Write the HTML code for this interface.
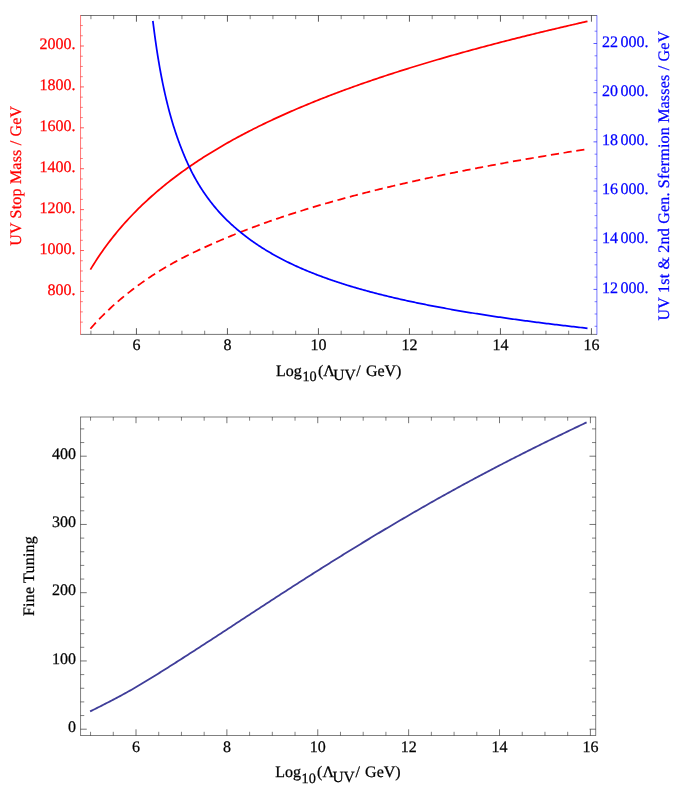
<!DOCTYPE html>
<html><head><meta charset="utf-8"><title>plots</title>
<style>
html,body{margin:0;padding:0;background:#fff;}
svg{display:block;font-family:"Liberation Serif",serif;text-rendering:geometricPrecision;will-change:transform;}
text{stroke-width:0.25px;paint-order:stroke;}
</style></head><body>
<svg width="681" height="788" viewBox="0 0 681 788">
<rect width="681" height="788" fill="#fff"/>
<line x1="80.55" y1="15.50" x2="596.90" y2="15.50" stroke="#000" stroke-width="0.54"/>
<line x1="80.55" y1="334.40" x2="596.90" y2="334.40" stroke="#000" stroke-width="0.54"/>
<line x1="80.55" y1="15.20" x2="80.55" y2="334.70" stroke="#ff0000" stroke-width="0.54"/>
<line x1="596.90" y1="15.20" x2="596.90" y2="334.70" stroke="#0000ff" stroke-width="0.54"/>
<line x1="90.93" y1="15.50" x2="90.93" y2="19.20" stroke="#000" stroke-width="0.5"/>
<line x1="90.93" y1="334.40" x2="90.93" y2="330.70" stroke="#000" stroke-width="0.5"/>
<line x1="113.68" y1="15.50" x2="113.68" y2="19.20" stroke="#000" stroke-width="0.5"/>
<line x1="113.68" y1="334.40" x2="113.68" y2="330.70" stroke="#000" stroke-width="0.5"/>
<line x1="136.43" y1="15.50" x2="136.43" y2="21.70" stroke="#000" stroke-width="0.65"/>
<line x1="136.43" y1="334.40" x2="136.43" y2="328.20" stroke="#000" stroke-width="0.65"/>
<line x1="159.18" y1="15.50" x2="159.18" y2="19.20" stroke="#000" stroke-width="0.5"/>
<line x1="159.18" y1="334.40" x2="159.18" y2="330.70" stroke="#000" stroke-width="0.5"/>
<line x1="181.93" y1="15.50" x2="181.93" y2="19.20" stroke="#000" stroke-width="0.5"/>
<line x1="181.93" y1="334.40" x2="181.93" y2="330.70" stroke="#000" stroke-width="0.5"/>
<line x1="204.68" y1="15.50" x2="204.68" y2="19.20" stroke="#000" stroke-width="0.5"/>
<line x1="204.68" y1="334.40" x2="204.68" y2="330.70" stroke="#000" stroke-width="0.5"/>
<line x1="227.43" y1="15.50" x2="227.43" y2="21.70" stroke="#000" stroke-width="0.65"/>
<line x1="227.43" y1="334.40" x2="227.43" y2="328.20" stroke="#000" stroke-width="0.65"/>
<line x1="250.18" y1="15.50" x2="250.18" y2="19.20" stroke="#000" stroke-width="0.5"/>
<line x1="250.18" y1="334.40" x2="250.18" y2="330.70" stroke="#000" stroke-width="0.5"/>
<line x1="272.93" y1="15.50" x2="272.93" y2="19.20" stroke="#000" stroke-width="0.5"/>
<line x1="272.93" y1="334.40" x2="272.93" y2="330.70" stroke="#000" stroke-width="0.5"/>
<line x1="295.68" y1="15.50" x2="295.68" y2="19.20" stroke="#000" stroke-width="0.5"/>
<line x1="295.68" y1="334.40" x2="295.68" y2="330.70" stroke="#000" stroke-width="0.5"/>
<line x1="318.43" y1="15.50" x2="318.43" y2="21.70" stroke="#000" stroke-width="0.65"/>
<line x1="318.43" y1="334.40" x2="318.43" y2="328.20" stroke="#000" stroke-width="0.65"/>
<line x1="341.18" y1="15.50" x2="341.18" y2="19.20" stroke="#000" stroke-width="0.5"/>
<line x1="341.18" y1="334.40" x2="341.18" y2="330.70" stroke="#000" stroke-width="0.5"/>
<line x1="363.93" y1="15.50" x2="363.93" y2="19.20" stroke="#000" stroke-width="0.5"/>
<line x1="363.93" y1="334.40" x2="363.93" y2="330.70" stroke="#000" stroke-width="0.5"/>
<line x1="386.68" y1="15.50" x2="386.68" y2="19.20" stroke="#000" stroke-width="0.5"/>
<line x1="386.68" y1="334.40" x2="386.68" y2="330.70" stroke="#000" stroke-width="0.5"/>
<line x1="409.43" y1="15.50" x2="409.43" y2="21.70" stroke="#000" stroke-width="0.65"/>
<line x1="409.43" y1="334.40" x2="409.43" y2="328.20" stroke="#000" stroke-width="0.65"/>
<line x1="432.18" y1="15.50" x2="432.18" y2="19.20" stroke="#000" stroke-width="0.5"/>
<line x1="432.18" y1="334.40" x2="432.18" y2="330.70" stroke="#000" stroke-width="0.5"/>
<line x1="454.93" y1="15.50" x2="454.93" y2="19.20" stroke="#000" stroke-width="0.5"/>
<line x1="454.93" y1="334.40" x2="454.93" y2="330.70" stroke="#000" stroke-width="0.5"/>
<line x1="477.68" y1="15.50" x2="477.68" y2="19.20" stroke="#000" stroke-width="0.5"/>
<line x1="477.68" y1="334.40" x2="477.68" y2="330.70" stroke="#000" stroke-width="0.5"/>
<line x1="500.43" y1="15.50" x2="500.43" y2="21.70" stroke="#000" stroke-width="0.65"/>
<line x1="500.43" y1="334.40" x2="500.43" y2="328.20" stroke="#000" stroke-width="0.65"/>
<line x1="523.18" y1="15.50" x2="523.18" y2="19.20" stroke="#000" stroke-width="0.5"/>
<line x1="523.18" y1="334.40" x2="523.18" y2="330.70" stroke="#000" stroke-width="0.5"/>
<line x1="545.93" y1="15.50" x2="545.93" y2="19.20" stroke="#000" stroke-width="0.5"/>
<line x1="545.93" y1="334.40" x2="545.93" y2="330.70" stroke="#000" stroke-width="0.5"/>
<line x1="568.68" y1="15.50" x2="568.68" y2="19.20" stroke="#000" stroke-width="0.5"/>
<line x1="568.68" y1="334.40" x2="568.68" y2="330.70" stroke="#000" stroke-width="0.5"/>
<line x1="591.43" y1="15.50" x2="591.43" y2="21.70" stroke="#000" stroke-width="0.65"/>
<line x1="591.43" y1="334.40" x2="591.43" y2="328.20" stroke="#000" stroke-width="0.65"/>
<text x="136.53" y="350.40" fill="#000" stroke="#000" font-size="16" text-anchor="middle" >6</text>
<text x="227.53" y="350.40" fill="#000" stroke="#000" font-size="16" text-anchor="middle" >8</text>
<text x="318.53" y="350.40" fill="#000" stroke="#000" font-size="16" text-anchor="middle" >10</text>
<text x="409.53" y="350.40" fill="#000" stroke="#000" font-size="16" text-anchor="middle" >12</text>
<text x="500.53" y="350.40" fill="#000" stroke="#000" font-size="16" text-anchor="middle" >14</text>
<text x="591.53" y="350.40" fill="#000" stroke="#000" font-size="16" text-anchor="middle" >16</text>
<line x1="80.55" y1="322.12" x2="82.85" y2="322.12" stroke="#ff0000" stroke-width="0.5"/>
<line x1="80.55" y1="311.89" x2="82.85" y2="311.89" stroke="#ff0000" stroke-width="0.5"/>
<line x1="80.55" y1="301.66" x2="82.85" y2="301.66" stroke="#ff0000" stroke-width="0.5"/>
<line x1="80.55" y1="291.44" x2="83.95" y2="291.44" stroke="#ff0000" stroke-width="0.65"/>
<line x1="80.55" y1="281.21" x2="82.85" y2="281.21" stroke="#ff0000" stroke-width="0.5"/>
<line x1="80.55" y1="270.98" x2="82.85" y2="270.98" stroke="#ff0000" stroke-width="0.5"/>
<line x1="80.55" y1="260.76" x2="82.85" y2="260.76" stroke="#ff0000" stroke-width="0.5"/>
<line x1="80.55" y1="250.53" x2="83.95" y2="250.53" stroke="#ff0000" stroke-width="0.65"/>
<line x1="80.55" y1="240.30" x2="82.85" y2="240.30" stroke="#ff0000" stroke-width="0.5"/>
<line x1="80.55" y1="230.08" x2="82.85" y2="230.08" stroke="#ff0000" stroke-width="0.5"/>
<line x1="80.55" y1="219.85" x2="82.85" y2="219.85" stroke="#ff0000" stroke-width="0.5"/>
<line x1="80.55" y1="209.62" x2="83.95" y2="209.62" stroke="#ff0000" stroke-width="0.65"/>
<line x1="80.55" y1="199.40" x2="82.85" y2="199.40" stroke="#ff0000" stroke-width="0.5"/>
<line x1="80.55" y1="189.17" x2="82.85" y2="189.17" stroke="#ff0000" stroke-width="0.5"/>
<line x1="80.55" y1="178.94" x2="82.85" y2="178.94" stroke="#ff0000" stroke-width="0.5"/>
<line x1="80.55" y1="168.72" x2="83.95" y2="168.72" stroke="#ff0000" stroke-width="0.65"/>
<line x1="80.55" y1="158.49" x2="82.85" y2="158.49" stroke="#ff0000" stroke-width="0.5"/>
<line x1="80.55" y1="148.26" x2="82.85" y2="148.26" stroke="#ff0000" stroke-width="0.5"/>
<line x1="80.55" y1="138.04" x2="82.85" y2="138.04" stroke="#ff0000" stroke-width="0.5"/>
<line x1="80.55" y1="127.81" x2="83.95" y2="127.81" stroke="#ff0000" stroke-width="0.65"/>
<line x1="80.55" y1="117.59" x2="82.85" y2="117.59" stroke="#ff0000" stroke-width="0.5"/>
<line x1="80.55" y1="107.36" x2="82.85" y2="107.36" stroke="#ff0000" stroke-width="0.5"/>
<line x1="80.55" y1="97.13" x2="82.85" y2="97.13" stroke="#ff0000" stroke-width="0.5"/>
<line x1="80.55" y1="86.91" x2="83.95" y2="86.91" stroke="#ff0000" stroke-width="0.65"/>
<line x1="80.55" y1="76.68" x2="82.85" y2="76.68" stroke="#ff0000" stroke-width="0.5"/>
<line x1="80.55" y1="66.45" x2="82.85" y2="66.45" stroke="#ff0000" stroke-width="0.5"/>
<line x1="80.55" y1="56.23" x2="82.85" y2="56.23" stroke="#ff0000" stroke-width="0.5"/>
<line x1="80.55" y1="46.00" x2="83.95" y2="46.00" stroke="#ff0000" stroke-width="0.65"/>
<line x1="80.55" y1="35.77" x2="82.85" y2="35.77" stroke="#ff0000" stroke-width="0.5"/>
<line x1="80.55" y1="25.55" x2="82.85" y2="25.55" stroke="#ff0000" stroke-width="0.5"/>
<text x="75.60" y="294.54" fill="#ff0000" stroke="#ff0000" font-size="16" text-anchor="end" >800.</text>
<text x="75.60" y="253.63" fill="#ff0000" stroke="#ff0000" font-size="16" text-anchor="end" >1000.</text>
<text x="75.60" y="212.72" fill="#ff0000" stroke="#ff0000" font-size="16" text-anchor="end" >1200.</text>
<text x="75.60" y="171.82" fill="#ff0000" stroke="#ff0000" font-size="16" text-anchor="end" >1400.</text>
<text x="75.60" y="130.91" fill="#ff0000" stroke="#ff0000" font-size="16" text-anchor="end" >1600.</text>
<text x="75.60" y="90.01" fill="#ff0000" stroke="#ff0000" font-size="16" text-anchor="end" >1800.</text>
<text x="75.60" y="49.10" fill="#ff0000" stroke="#ff0000" font-size="16" text-anchor="end" >2000.</text>
<line x1="596.90" y1="326.29" x2="594.60" y2="326.29" stroke="#0000ff" stroke-width="0.5"/>
<line x1="596.90" y1="313.99" x2="594.60" y2="313.99" stroke="#0000ff" stroke-width="0.5"/>
<line x1="596.90" y1="301.69" x2="594.60" y2="301.69" stroke="#0000ff" stroke-width="0.5"/>
<line x1="596.90" y1="289.40" x2="593.50" y2="289.40" stroke="#0000ff" stroke-width="0.65"/>
<line x1="596.90" y1="277.11" x2="594.60" y2="277.11" stroke="#0000ff" stroke-width="0.5"/>
<line x1="596.90" y1="264.81" x2="594.60" y2="264.81" stroke="#0000ff" stroke-width="0.5"/>
<line x1="596.90" y1="252.52" x2="594.60" y2="252.52" stroke="#0000ff" stroke-width="0.5"/>
<line x1="596.90" y1="240.22" x2="593.50" y2="240.22" stroke="#0000ff" stroke-width="0.65"/>
<line x1="596.90" y1="227.93" x2="594.60" y2="227.93" stroke="#0000ff" stroke-width="0.5"/>
<line x1="596.90" y1="215.63" x2="594.60" y2="215.63" stroke="#0000ff" stroke-width="0.5"/>
<line x1="596.90" y1="203.34" x2="594.60" y2="203.34" stroke="#0000ff" stroke-width="0.5"/>
<line x1="596.90" y1="191.04" x2="593.50" y2="191.04" stroke="#0000ff" stroke-width="0.65"/>
<line x1="596.90" y1="178.75" x2="594.60" y2="178.75" stroke="#0000ff" stroke-width="0.5"/>
<line x1="596.90" y1="166.45" x2="594.60" y2="166.45" stroke="#0000ff" stroke-width="0.5"/>
<line x1="596.90" y1="154.16" x2="594.60" y2="154.16" stroke="#0000ff" stroke-width="0.5"/>
<line x1="596.90" y1="141.86" x2="593.50" y2="141.86" stroke="#0000ff" stroke-width="0.65"/>
<line x1="596.90" y1="129.56" x2="594.60" y2="129.56" stroke="#0000ff" stroke-width="0.5"/>
<line x1="596.90" y1="117.27" x2="594.60" y2="117.27" stroke="#0000ff" stroke-width="0.5"/>
<line x1="596.90" y1="104.97" x2="594.60" y2="104.97" stroke="#0000ff" stroke-width="0.5"/>
<line x1="596.90" y1="92.68" x2="593.50" y2="92.68" stroke="#0000ff" stroke-width="0.65"/>
<line x1="596.90" y1="80.38" x2="594.60" y2="80.38" stroke="#0000ff" stroke-width="0.5"/>
<line x1="596.90" y1="68.09" x2="594.60" y2="68.09" stroke="#0000ff" stroke-width="0.5"/>
<line x1="596.90" y1="55.80" x2="594.60" y2="55.80" stroke="#0000ff" stroke-width="0.5"/>
<line x1="596.90" y1="43.50" x2="593.50" y2="43.50" stroke="#0000ff" stroke-width="0.65"/>
<line x1="596.90" y1="31.20" x2="594.60" y2="31.20" stroke="#0000ff" stroke-width="0.5"/>
<text x="602.00" y="292.50" fill="#0000ff" stroke="#0000ff" font-size="16" text-anchor="start" >12<tspan dx="2.4">000.</tspan></text>
<text x="602.00" y="243.32" fill="#0000ff" stroke="#0000ff" font-size="16" text-anchor="start" >14<tspan dx="2.4">000.</tspan></text>
<text x="602.00" y="194.14" fill="#0000ff" stroke="#0000ff" font-size="16" text-anchor="start" >16<tspan dx="2.4">000.</tspan></text>
<text x="602.00" y="144.96" fill="#0000ff" stroke="#0000ff" font-size="16" text-anchor="start" >18<tspan dx="2.4">000.</tspan></text>
<text x="602.00" y="95.78" fill="#0000ff" stroke="#0000ff" font-size="16" text-anchor="start" >20<tspan dx="2.4">000.</tspan></text>
<text x="602.00" y="46.60" fill="#0000ff" stroke="#0000ff" font-size="16" text-anchor="start" >22<tspan dx="2.4">000.</tspan></text>
<path d="M90.40,269.66 L92.06,266.92 L93.73,264.24 L95.39,261.62 L97.05,259.06 L98.71,256.56 L100.38,254.10 L102.04,251.70 L103.70,249.35 L105.36,247.04 L107.03,244.78 L108.69,242.56 L110.35,240.38 L112.01,238.24 L113.68,236.14 L115.34,234.08 L117.00,232.05 L118.66,230.06 L120.33,228.10 L121.99,226.17 L123.65,224.27 L125.31,222.41 L126.98,220.57 L128.64,218.76 L130.30,216.98 L131.96,215.23 L133.63,213.50 L135.29,211.80 L136.95,210.12 L138.61,208.47 L140.28,206.84 L141.94,205.23 L143.60,203.64 L145.26,202.08 L146.93,200.53 L148.59,199.01 L150.25,197.50 L151.91,196.01 L153.58,194.55 L155.24,193.10 L156.90,191.67 L158.56,190.25 L160.23,188.85 L161.89,187.47 L163.55,186.11 L165.21,184.76 L166.88,183.42 L168.54,182.10 L170.20,180.80 L171.86,179.51 L173.53,178.23 L175.19,176.97 L176.85,175.72 L178.51,174.49 L180.18,173.26 L181.84,172.05 L183.50,170.85 L185.16,169.67 L186.83,168.49 L188.49,167.33 L190.15,166.18 L191.82,165.04 L193.48,163.91 L195.14,162.79 L196.80,161.68 L198.47,160.59 L200.13,159.50 L201.79,158.42 L203.45,157.35 L205.12,156.29 L206.78,155.24 L208.44,154.20 L210.10,153.17 L211.77,152.15 L213.43,151.14 L215.09,150.13 L216.75,149.14 L218.42,148.15 L220.08,147.17 L221.74,146.20 L223.40,145.23 L225.07,144.28 L226.73,143.33 L228.39,142.38 L230.05,141.45 L231.72,140.52 L233.38,139.60 L235.04,138.69 L236.70,137.79 L238.37,136.89 L240.03,136.00 L241.69,135.11 L243.35,134.23 L245.02,133.36 L246.68,132.49 L248.34,131.63 L250.00,130.78 L251.67,129.93 L253.33,129.09 L254.99,128.25 L256.65,127.42 L258.32,126.59 L259.98,125.77 L261.64,124.96 L263.30,124.15 L264.97,123.35 L266.63,122.55 L268.29,121.76 L269.95,120.97 L271.62,120.19 L273.28,119.41 L274.94,118.64 L276.60,117.87 L278.27,117.11 L279.93,116.35 L281.59,115.60 L283.25,114.85 L284.92,114.10 L286.58,113.36 L288.24,112.63 L289.91,111.90 L291.57,111.17 L293.23,110.45 L294.89,109.73 L296.56,109.02 L298.22,108.31 L299.88,107.60 L301.54,106.90 L303.21,106.20 L304.87,105.51 L306.53,104.82 L308.19,104.13 L309.86,103.45 L311.52,102.77 L313.18,102.10 L314.84,101.42 L316.51,100.76 L318.17,100.09 L319.83,99.43 L321.49,98.77 L323.16,98.12 L324.82,97.47 L326.48,96.82 L328.14,96.18 L329.81,95.54 L331.47,94.90 L333.13,94.27 L334.79,93.64 L336.46,93.01 L338.12,92.38 L339.78,91.76 L341.44,91.14 L343.11,90.53 L344.77,89.91 L346.43,89.30 L348.09,88.70 L349.76,88.09 L351.42,87.49 L353.08,86.89 L354.74,86.30 L356.41,85.71 L358.07,85.12 L359.73,84.53 L361.39,83.94 L363.06,83.36 L364.72,82.78 L366.38,82.21 L368.04,81.63 L369.71,81.06 L371.37,80.49 L373.03,79.92 L374.69,79.36 L376.36,78.80 L378.02,78.24 L379.68,77.68 L381.34,77.13 L383.01,76.57 L384.67,76.02 L386.33,75.48 L387.99,74.93 L389.66,74.39 L391.32,73.85 L392.98,73.31 L394.65,72.77 L396.31,72.24 L397.97,71.71 L399.63,71.18 L401.30,70.65 L402.96,70.12 L404.62,69.60 L406.28,69.08 L407.95,68.56 L409.61,68.04 L411.27,67.52 L412.93,67.01 L414.60,66.50 L416.26,65.99 L417.92,65.48 L419.58,64.97 L421.25,64.47 L422.91,63.97 L424.57,63.47 L426.23,62.97 L427.90,62.47 L429.56,61.98 L431.22,61.48 L432.88,60.99 L434.55,60.50 L436.21,60.01 L437.87,59.53 L439.53,59.04 L441.20,58.56 L442.86,58.08 L444.52,57.60 L446.18,57.12 L447.85,56.64 L449.51,56.17 L451.17,55.70 L452.83,55.22 L454.50,54.76 L456.16,54.29 L457.82,53.82 L459.48,53.35 L461.15,52.89 L462.81,52.43 L464.47,51.97 L466.13,51.51 L467.80,51.05 L469.46,50.60 L471.12,50.14 L472.78,49.69 L474.45,49.24 L476.11,48.79 L477.77,48.34 L479.43,47.89 L481.10,47.44 L482.76,47.00 L484.42,46.55 L486.08,46.11 L487.75,45.67 L489.41,45.23 L491.07,44.79 L492.74,44.36 L494.40,43.92 L496.06,43.49 L497.72,43.05 L499.39,42.62 L501.05,42.19 L502.71,41.76 L504.37,41.33 L506.04,40.91 L507.70,40.48 L509.36,40.06 L511.02,39.64 L512.69,39.21 L514.35,38.79 L516.01,38.37 L517.67,37.95 L519.34,37.54 L521.00,37.12 L522.66,36.71 L524.32,36.29 L525.99,35.88 L527.65,35.47 L529.31,35.06 L530.97,34.65 L532.64,34.24 L534.30,33.83 L535.96,33.43 L537.62,33.02 L539.29,32.62 L540.95,32.22 L542.61,31.81 L544.27,31.41 L545.94,31.01 L547.60,30.61 L549.26,30.22 L550.92,29.82 L552.59,29.42 L554.25,29.03 L555.91,28.63 L557.57,28.24 L559.24,27.85 L560.90,27.46 L562.56,27.07 L564.22,26.68 L565.89,26.29 L567.55,25.90 L569.21,25.52 L570.87,25.13 L572.54,24.75 L574.20,24.37 L575.86,23.98 L577.52,23.60 L579.19,23.22 L580.85,22.84 L582.51,22.46 L584.17,22.08 L585.84,21.71 L587.50,21.33" fill="none" stroke="#ff0000" stroke-width="1.75" stroke-linejoin="round" />
<path d="M90.40,328.72 L92.06,326.83 L93.73,324.98 L95.39,323.17 L97.05,321.39 L98.71,319.64 L100.38,317.93 L102.04,316.24 L103.70,314.59 L105.36,312.96 L107.03,311.36 L108.69,309.79 L110.35,308.24 L112.01,306.71 L113.68,305.21 L115.34,303.73 L117.00,302.28 L118.66,300.84 L120.33,299.42 L121.99,298.03 L123.65,296.65 L125.31,295.29 L126.98,293.95 L128.64,292.63 L130.30,291.33 L131.96,290.04 L133.63,288.77 L135.29,287.51 L136.95,286.27 L138.61,285.05 L140.28,283.84 L141.94,282.65 L143.60,281.48 L145.26,280.31 L146.93,279.17 L148.59,278.04 L150.25,276.92 L151.91,275.82 L153.58,274.73 L155.24,273.66 L156.90,272.60 L158.56,271.56 L160.23,270.53 L161.89,269.51 L163.55,268.51 L165.21,267.52 L166.88,266.55 L168.54,265.59 L170.20,264.64 L171.86,263.70 L173.53,262.78 L175.19,261.86 L176.85,260.96 L178.51,260.07 L180.18,259.20 L181.84,258.33 L183.50,257.47 L185.16,256.62 L186.83,255.78 L188.49,254.95 L190.15,254.13 L191.82,253.32 L193.48,252.52 L195.14,251.72 L196.80,250.93 L198.47,250.15 L200.13,249.37 L201.79,248.60 L203.45,247.84 L205.12,247.08 L206.78,246.33 L208.44,245.58 L210.10,244.84 L211.77,244.10 L213.43,243.37 L215.09,242.64 L216.75,241.92 L218.42,241.21 L220.08,240.50 L221.74,239.79 L223.40,239.09 L225.07,238.39 L226.73,237.69 L228.39,237.00 L230.05,236.32 L231.72,235.64 L233.38,234.96 L235.04,234.29 L236.70,233.63 L238.37,232.96 L240.03,232.31 L241.69,231.65 L243.35,231.00 L245.02,230.36 L246.68,229.72 L248.34,229.08 L250.00,228.45 L251.67,227.82 L253.33,227.19 L254.99,226.57 L256.65,225.96 L258.32,225.35 L259.98,224.74 L261.64,224.13 L263.30,223.53 L264.97,222.94 L266.63,222.35 L268.29,221.76 L269.95,221.17 L271.62,220.59 L273.28,220.02 L274.94,219.44 L276.60,218.87 L278.27,218.31 L279.93,217.74 L281.59,217.19 L283.25,216.63 L284.92,216.08 L286.58,215.53 L288.24,214.98 L289.91,214.44 L291.57,213.90 L293.23,213.37 L294.89,212.83 L296.56,212.31 L298.22,211.78 L299.88,211.26 L301.54,210.74 L303.21,210.22 L304.87,209.70 L306.53,209.19 L308.19,208.69 L309.86,208.18 L311.52,207.68 L313.18,207.18 L314.84,206.68 L316.51,206.19 L318.17,205.70 L319.83,205.21 L321.49,204.72 L323.16,204.24 L324.82,203.76 L326.48,203.28 L328.14,202.80 L329.81,202.33 L331.47,201.86 L333.13,201.39 L334.79,200.92 L336.46,200.46 L338.12,200.00 L339.78,199.54 L341.44,199.09 L343.11,198.63 L344.77,198.18 L346.43,197.73 L348.09,197.28 L349.76,196.84 L351.42,196.40 L353.08,195.96 L354.74,195.52 L356.41,195.08 L358.07,194.65 L359.73,194.22 L361.39,193.79 L363.06,193.36 L364.72,192.93 L366.38,192.51 L368.04,192.09 L369.71,191.67 L371.37,191.25 L373.03,190.84 L374.69,190.42 L376.36,190.01 L378.02,189.60 L379.68,189.19 L381.34,188.79 L383.01,188.38 L384.67,187.98 L386.33,187.58 L387.99,187.18 L389.66,186.78 L391.32,186.39 L392.98,186.00 L394.65,185.60 L396.31,185.22 L397.97,184.83 L399.63,184.44 L401.30,184.06 L402.96,183.67 L404.62,183.29 L406.28,182.91 L407.95,182.53 L409.61,182.16 L411.27,181.78 L412.93,181.41 L414.60,181.04 L416.26,180.67 L417.92,180.30 L419.58,179.93 L421.25,179.56 L422.91,179.20 L424.57,178.84 L426.23,178.48 L427.90,178.12 L429.56,177.76 L431.22,177.40 L432.88,177.05 L434.55,176.69 L436.21,176.34 L437.87,175.99 L439.53,175.64 L441.20,175.29 L442.86,174.95 L444.52,174.60 L446.18,174.26 L447.85,173.91 L449.51,173.57 L451.17,173.23 L452.83,172.89 L454.50,172.56 L456.16,172.22 L457.82,171.88 L459.48,171.55 L461.15,171.22 L462.81,170.89 L464.47,170.56 L466.13,170.23 L467.80,169.90 L469.46,169.58 L471.12,169.25 L472.78,168.93 L474.45,168.60 L476.11,168.28 L477.77,167.96 L479.43,167.64 L481.10,167.33 L482.76,167.01 L484.42,166.69 L486.08,166.38 L487.75,166.07 L489.41,165.75 L491.07,165.44 L492.74,165.13 L494.40,164.82 L496.06,164.52 L497.72,164.21 L499.39,163.90 L501.05,163.60 L502.71,163.30 L504.37,162.99 L506.04,162.69 L507.70,162.39 L509.36,162.09 L511.02,161.80 L512.69,161.50 L514.35,161.20 L516.01,160.91 L517.67,160.61 L519.34,160.32 L521.00,160.03 L522.66,159.74 L524.32,159.45 L525.99,159.16 L527.65,158.87 L529.31,158.58 L530.97,158.29 L532.64,158.01 L534.30,157.72 L535.96,157.44 L537.62,157.16 L539.29,156.88 L540.95,156.60 L542.61,156.32 L544.27,156.04 L545.94,155.76 L547.60,155.48 L549.26,155.20 L550.92,154.93 L552.59,154.65 L554.25,154.38 L555.91,154.11 L557.57,153.84 L559.24,153.56 L560.90,153.29 L562.56,153.03 L564.22,152.76 L565.89,152.49 L567.55,152.22 L569.21,151.96 L570.87,151.69 L572.54,151.43 L574.20,151.16 L575.86,150.90 L577.52,150.64 L579.19,150.38 L580.85,150.12 L582.51,149.86 L584.17,149.60 L585.84,149.34 L587.50,149.08" fill="none" stroke="#ff0000" stroke-width="1.75" stroke-linejoin="round" stroke-dasharray="8.2 4.64"/>
<path d="M152.86,20.90 L152.86,20.91 L152.87,20.96 L152.88,21.03 L152.89,21.12 L152.91,21.25 L152.93,21.40 L152.95,21.58 L152.97,21.79 L153.00,22.02 L153.04,22.28 L153.07,22.57 L153.11,22.89 L153.16,23.23 L153.20,23.60 L153.25,24.00 L153.31,24.42 L153.36,24.86 L153.42,25.34 L153.49,25.83 L153.56,26.36 L153.63,26.90 L153.70,27.47 L153.78,28.07 L153.86,28.69 L153.94,29.33 L154.03,29.99 L154.12,30.68 L154.21,31.39 L154.31,32.12 L154.41,32.87 L154.51,33.64 L154.62,34.44 L154.72,35.25 L154.84,36.08 L154.95,36.94 L155.07,37.81 L155.20,38.70 L155.32,39.60 L155.45,40.53 L155.58,41.47 L155.72,42.43 L155.86,43.41 L156.00,44.40 L156.15,45.40 L156.30,46.42 L156.45,47.46 L156.61,48.51 L156.77,49.57 L156.93,50.65 L157.10,51.74 L157.27,52.84 L157.44,53.95 L157.62,55.07 L157.80,56.21 L157.99,57.35 L158.18,58.50 L158.37,59.67 L158.57,60.84 L158.77,62.02 L158.97,63.22 L159.17,64.41 L159.38,65.62 L159.60,66.83 L159.81,68.05 L160.03,69.28 L160.26,70.51 L160.48,71.75 L160.71,72.99 L160.95,74.24 L161.19,75.49 L161.43,76.75 L161.67,78.01 L161.92,79.27 L162.17,80.54 L162.42,81.81 L162.68,83.08 L162.94,84.36 L163.21,85.64 L163.48,86.91 L163.75,88.20 L164.03,89.48 L164.31,90.76 L164.59,92.04 L164.87,93.33 L165.16,94.61 L165.46,95.89 L165.75,97.18 L166.05,98.46 L166.36,99.74 L166.67,101.02 L166.98,102.30 L167.29,103.58 L167.61,104.86 L167.93,106.13 L168.26,107.40 L168.59,108.67 L168.92,109.94 L169.25,111.21 L169.59,112.47 L169.94,113.73 L170.28,114.99 L170.64,116.24 L170.99,117.49 L171.35,118.74 L171.71,119.98 L172.07,121.23 L172.44,122.46 L172.81,123.69 L173.19,124.92 L173.56,126.15 L173.95,127.37 L174.33,128.58 L174.72,129.80 L175.11,131.00 L175.51,132.21 L175.91,133.40 L176.31,134.60 L176.71,135.79 L177.12,136.97 L177.53,138.15 L177.95,139.32 L178.37,140.49 L178.79,141.66 L179.22,142.81 L179.65,143.97 L180.08,145.12 L180.51,146.26 L180.95,147.40 L181.39,148.53 L181.84,149.66 L182.28,150.78 L182.73,151.89 L183.18,153.00 L183.64,154.11 L184.10,155.21 L184.55,156.30 L185.02,157.39 L185.48,158.47 L185.95,159.55 L186.42,160.62 L186.90,161.69 L187.37,162.75 L187.86,163.80 L188.34,164.85 L188.83,165.89 L189.32,166.93 L189.81,167.96 L190.31,168.99 L190.82,170.01 L191.32,171.02 L191.83,172.03 L192.35,173.03 L192.86,174.03 L193.39,175.02 L193.91,176.01 L194.44,176.99 L194.98,177.97 L195.52,178.94 L196.06,179.90 L196.61,180.86 L197.16,181.81 L197.71,182.76 L198.27,183.70 L198.84,184.64 L199.41,185.57 L199.98,186.50 L200.56,187.42 L201.14,188.33 L201.73,189.24 L202.32,190.14 L202.92,191.04 L203.52,191.93 L204.12,192.82 L204.73,193.71 L205.34,194.58 L205.95,195.45 L206.57,196.32 L207.19,197.18 L207.81,198.04 L208.44,198.89 L209.07,199.74 L209.70,200.58 L210.34,201.42 L210.98,202.25 L211.63,203.07 L212.28,203.89 L212.93,204.71 L213.58,205.52 L214.24,206.33 L214.91,207.13 L215.57,207.93 L216.24,208.72 L216.91,209.50 L217.59,210.29 L218.27,211.06 L218.96,211.84 L219.65,212.61 L220.35,213.37 L221.05,214.13 L221.76,214.88 L222.47,215.63 L223.18,216.38 L223.90,217.12 L224.63,217.86 L225.36,218.59 L226.09,219.31 L226.83,220.04 L227.57,220.76 L228.31,221.47 L229.06,222.18 L229.81,222.89 L230.57,223.59 L231.33,224.29 L232.09,224.98 L232.85,225.67 L233.62,226.36 L234.39,227.04 L235.17,227.71 L235.94,228.39 L236.72,229.06 L237.51,229.72 L238.29,230.38 L239.08,231.04 L239.87,231.69 L240.67,232.34 L241.46,232.99 L242.26,233.63 L243.06,234.27 L243.87,234.90 L244.67,235.53 L245.48,236.16 L246.29,236.78 L247.11,237.40 L247.93,238.02 L248.75,238.63 L249.58,239.24 L250.41,239.84 L251.25,240.45 L252.08,241.04 L252.92,241.64 L253.77,242.23 L254.61,242.82 L255.46,243.40 L256.32,243.98 L257.18,244.56 L258.04,245.14 L258.90,245.71 L259.77,246.28 L260.64,246.84 L261.52,247.40 L262.39,247.96 L263.28,248.52 L264.16,249.07 L265.05,249.62 L265.94,250.16 L266.84,250.71 L267.73,251.24 L268.64,251.78 L269.54,252.32 L270.45,252.85 L271.36,253.37 L272.28,253.90 L273.20,254.42 L274.12,254.94 L275.04,255.46 L275.97,255.97 L276.90,256.48 L277.84,256.99 L278.78,257.49 L279.72,257.99 L280.67,258.49 L281.62,258.99 L282.57,259.48 L283.53,259.98 L284.49,260.46 L285.45,260.95 L286.41,261.43 L287.38,261.91 L288.36,262.39 L289.34,262.87 L290.32,263.34 L291.30,263.81 L292.29,264.28 L293.28,264.74 L294.27,265.21 L295.27,265.67 L296.27,266.13 L297.28,266.58 L298.29,267.04 L299.30,267.49 L300.31,267.94 L301.33,268.38 L302.35,268.83 L303.38,269.27 L304.41,269.71 L305.44,270.14 L306.48,270.58 L307.52,271.01 L308.56,271.44 L309.61,271.87 L310.66,272.30 L311.71,272.72 L312.77,273.14 L313.83,273.56 L314.90,273.98 L315.96,274.39 L317.04,274.81 L318.11,275.22 L319.19,275.63 L320.27,276.03 L321.36,276.44 L322.44,276.84 L323.54,277.24 L324.63,277.64 L325.73,278.04 L326.83,278.43 L327.94,278.82 L329.05,279.22 L330.16,279.60 L331.28,279.99 L332.40,280.38 L333.52,280.76 L334.65,281.14 L335.78,281.52 L336.92,281.90 L338.05,282.27 L339.20,282.65 L340.34,283.02 L341.49,283.39 L342.64,283.76 L343.80,284.13 L344.96,284.49 L346.12,284.86 L347.28,285.22 L348.45,285.58 L349.62,285.94 L350.80,286.29 L351.98,286.65 L353.16,287.00 L354.35,287.35 L355.54,287.70 L356.73,288.05 L357.93,288.40 L359.13,288.75 L360.34,289.09 L361.54,289.43 L362.76,289.77 L363.97,290.11 L365.19,290.45 L366.41,290.78 L367.64,291.12 L368.86,291.45 L370.10,291.78 L371.33,292.11 L372.57,292.44 L373.81,292.77 L375.06,293.09 L376.31,293.42 L377.56,293.74 L378.82,294.06 L380.08,294.38 L381.34,294.70 L382.61,295.02 L383.88,295.33 L385.15,295.64 L386.43,295.96 L387.71,296.27 L389.00,296.58 L390.29,296.89 L391.58,297.19 L392.87,297.50 L394.17,297.81 L395.47,298.11 L396.78,298.41 L398.09,298.71 L399.40,299.01 L400.72,299.31 L402.04,299.61 L403.36,299.90 L404.69,300.20 L406.02,300.49 L407.35,300.78 L408.69,301.07 L410.03,301.36 L411.37,301.65 L412.72,301.94 L414.07,302.22 L415.42,302.51 L416.78,302.79 L418.14,303.07 L419.51,303.35 L420.88,303.63 L422.25,303.91 L423.62,304.19 L425.00,304.47 L426.39,304.74 L427.77,305.02 L429.16,305.29 L430.55,305.56 L431.95,305.83 L433.35,306.10 L434.75,306.37 L436.16,306.64 L437.57,306.91 L438.98,307.17 L440.40,307.44 L441.82,307.70 L443.25,307.96 L444.68,308.23 L446.11,308.49 L447.54,308.75 L448.98,309.00 L450.42,309.26 L451.87,309.52 L453.32,309.77 L454.77,310.03 L456.22,310.28 L457.68,310.53 L459.15,310.79 L460.61,311.04 L462.08,311.29 L463.56,311.54 L465.03,311.78 L466.51,312.03 L468.00,312.28 L469.48,312.52 L470.98,312.77 L472.47,313.01 L473.97,313.25 L475.47,313.49 L476.97,313.73 L478.48,313.97 L479.99,314.21 L481.51,314.45 L483.03,314.69 L484.55,314.92 L486.08,315.16 L487.60,315.39 L489.14,315.63 L490.67,315.86 L492.21,316.09 L493.76,316.32 L495.30,316.55 L496.85,316.78 L498.41,317.01 L499.96,317.24 L501.53,317.46 L503.09,317.69 L504.66,317.92 L506.23,318.14 L507.80,318.36 L509.38,318.59 L510.96,318.81 L512.55,319.03 L514.14,319.25 L515.73,319.47 L517.33,319.69 L518.92,319.91 L520.53,320.13 L522.13,320.34 L523.74,320.56 L525.36,320.78 L526.97,320.99 L528.59,321.20 L530.22,321.42 L531.84,321.63 L533.47,321.84 L535.11,322.05 L536.75,322.26 L538.39,322.47 L540.03,322.68 L541.68,322.89 L543.33,323.10 L544.99,323.31 L546.65,323.51 L548.31,323.72 L549.97,323.92 L551.64,324.13 L553.31,324.33 L554.99,324.53 L556.67,324.74 L558.35,324.94 L560.04,325.14 L561.73,325.34 L563.42,325.54 L565.12,325.74 L566.82,325.94 L568.52,326.13 L570.23,326.33 L571.94,326.53 L573.66,326.72 L575.38,326.92 L577.10,327.11 L578.82,327.31 L580.55,327.50 L582.28,327.69 L584.02,327.89 L585.76,328.08 L587.50,328.27" fill="none" stroke="#0000ff" stroke-width="1.75" stroke-linejoin="round" />
<text font-size="16" fill="#000" stroke="#000"><tspan x="276.00" y="376.00">Log</tspan><tspan x="302.40" y="381.30" font-size="14.3">10</tspan><tspan x="317.90" y="376.00">(Λ</tspan><tspan x="333.20" y="380.30" font-size="15.5">UV</tspan><tspan x="356.30" y="376.00">/</tspan><tspan x="365.90" y="376.00">GeV)</tspan></text>
<text transform="translate(21.2,175.75) rotate(-90)" letter-spacing="0.2" font-size="16" fill="#ff0000" stroke="#ff0000" text-anchor="middle">UV Stop Mass / GeV</text>
<text transform="translate(669.2,175.55) rotate(-90)" letter-spacing="0.2" font-size="16" fill="#0000ff" stroke="#0000ff" text-anchor="middle">UV 1st &amp; 2nd Gen. Sfermion Masses / GeV</text>
<line x1="80.55" y1="417.00" x2="595.70" y2="417.00" stroke="#000" stroke-width="0.5"/>
<line x1="80.55" y1="735.50" x2="595.70" y2="735.50" stroke="#000" stroke-width="0.5"/>
<line x1="80.55" y1="416.70" x2="80.55" y2="735.80" stroke="#000" stroke-width="0.5"/>
<line x1="595.70" y1="416.70" x2="595.70" y2="735.80" stroke="#000" stroke-width="0.5"/>
<line x1="90.56" y1="417.00" x2="90.56" y2="420.70" stroke="#000" stroke-width="0.5"/>
<line x1="90.56" y1="735.50" x2="90.56" y2="731.80" stroke="#000" stroke-width="0.5"/>
<line x1="113.28" y1="417.00" x2="113.28" y2="420.70" stroke="#000" stroke-width="0.5"/>
<line x1="113.28" y1="735.50" x2="113.28" y2="731.80" stroke="#000" stroke-width="0.5"/>
<line x1="136.00" y1="417.00" x2="136.00" y2="423.20" stroke="#000" stroke-width="0.55"/>
<line x1="136.00" y1="735.50" x2="136.00" y2="729.30" stroke="#000" stroke-width="0.55"/>
<line x1="158.72" y1="417.00" x2="158.72" y2="420.70" stroke="#000" stroke-width="0.5"/>
<line x1="158.72" y1="735.50" x2="158.72" y2="731.80" stroke="#000" stroke-width="0.5"/>
<line x1="181.44" y1="417.00" x2="181.44" y2="420.70" stroke="#000" stroke-width="0.5"/>
<line x1="181.44" y1="735.50" x2="181.44" y2="731.80" stroke="#000" stroke-width="0.5"/>
<line x1="204.16" y1="417.00" x2="204.16" y2="420.70" stroke="#000" stroke-width="0.5"/>
<line x1="204.16" y1="735.50" x2="204.16" y2="731.80" stroke="#000" stroke-width="0.5"/>
<line x1="226.88" y1="417.00" x2="226.88" y2="423.20" stroke="#000" stroke-width="0.55"/>
<line x1="226.88" y1="735.50" x2="226.88" y2="729.30" stroke="#000" stroke-width="0.55"/>
<line x1="249.60" y1="417.00" x2="249.60" y2="420.70" stroke="#000" stroke-width="0.5"/>
<line x1="249.60" y1="735.50" x2="249.60" y2="731.80" stroke="#000" stroke-width="0.5"/>
<line x1="272.32" y1="417.00" x2="272.32" y2="420.70" stroke="#000" stroke-width="0.5"/>
<line x1="272.32" y1="735.50" x2="272.32" y2="731.80" stroke="#000" stroke-width="0.5"/>
<line x1="295.04" y1="417.00" x2="295.04" y2="420.70" stroke="#000" stroke-width="0.5"/>
<line x1="295.04" y1="735.50" x2="295.04" y2="731.80" stroke="#000" stroke-width="0.5"/>
<line x1="317.76" y1="417.00" x2="317.76" y2="423.20" stroke="#000" stroke-width="0.55"/>
<line x1="317.76" y1="735.50" x2="317.76" y2="729.30" stroke="#000" stroke-width="0.55"/>
<line x1="340.48" y1="417.00" x2="340.48" y2="420.70" stroke="#000" stroke-width="0.5"/>
<line x1="340.48" y1="735.50" x2="340.48" y2="731.80" stroke="#000" stroke-width="0.5"/>
<line x1="363.20" y1="417.00" x2="363.20" y2="420.70" stroke="#000" stroke-width="0.5"/>
<line x1="363.20" y1="735.50" x2="363.20" y2="731.80" stroke="#000" stroke-width="0.5"/>
<line x1="385.92" y1="417.00" x2="385.92" y2="420.70" stroke="#000" stroke-width="0.5"/>
<line x1="385.92" y1="735.50" x2="385.92" y2="731.80" stroke="#000" stroke-width="0.5"/>
<line x1="408.64" y1="417.00" x2="408.64" y2="423.20" stroke="#000" stroke-width="0.55"/>
<line x1="408.64" y1="735.50" x2="408.64" y2="729.30" stroke="#000" stroke-width="0.55"/>
<line x1="431.36" y1="417.00" x2="431.36" y2="420.70" stroke="#000" stroke-width="0.5"/>
<line x1="431.36" y1="735.50" x2="431.36" y2="731.80" stroke="#000" stroke-width="0.5"/>
<line x1="454.08" y1="417.00" x2="454.08" y2="420.70" stroke="#000" stroke-width="0.5"/>
<line x1="454.08" y1="735.50" x2="454.08" y2="731.80" stroke="#000" stroke-width="0.5"/>
<line x1="476.80" y1="417.00" x2="476.80" y2="420.70" stroke="#000" stroke-width="0.5"/>
<line x1="476.80" y1="735.50" x2="476.80" y2="731.80" stroke="#000" stroke-width="0.5"/>
<line x1="499.52" y1="417.00" x2="499.52" y2="423.20" stroke="#000" stroke-width="0.55"/>
<line x1="499.52" y1="735.50" x2="499.52" y2="729.30" stroke="#000" stroke-width="0.55"/>
<line x1="522.24" y1="417.00" x2="522.24" y2="420.70" stroke="#000" stroke-width="0.5"/>
<line x1="522.24" y1="735.50" x2="522.24" y2="731.80" stroke="#000" stroke-width="0.5"/>
<line x1="544.96" y1="417.00" x2="544.96" y2="420.70" stroke="#000" stroke-width="0.5"/>
<line x1="544.96" y1="735.50" x2="544.96" y2="731.80" stroke="#000" stroke-width="0.5"/>
<line x1="567.68" y1="417.00" x2="567.68" y2="420.70" stroke="#000" stroke-width="0.5"/>
<line x1="567.68" y1="735.50" x2="567.68" y2="731.80" stroke="#000" stroke-width="0.5"/>
<line x1="590.40" y1="417.00" x2="590.40" y2="423.20" stroke="#000" stroke-width="0.55"/>
<line x1="590.40" y1="735.50" x2="590.40" y2="729.30" stroke="#000" stroke-width="0.55"/>
<text x="136.10" y="751.50" fill="#000" stroke="#000" font-size="16" text-anchor="middle" >6</text>
<text x="226.98" y="751.50" fill="#000" stroke="#000" font-size="16" text-anchor="middle" >8</text>
<text x="317.86" y="751.50" fill="#000" stroke="#000" font-size="16" text-anchor="middle" >10</text>
<text x="408.74" y="751.50" fill="#000" stroke="#000" font-size="16" text-anchor="middle" >12</text>
<text x="499.62" y="751.50" fill="#000" stroke="#000" font-size="16" text-anchor="middle" >14</text>
<text x="590.50" y="751.50" fill="#000" stroke="#000" font-size="16" text-anchor="middle" >16</text>
<line x1="80.55" y1="729.20" x2="86.75" y2="729.20" stroke="#000" stroke-width="0.55"/>
<line x1="595.70" y1="729.20" x2="589.50" y2="729.20" stroke="#000" stroke-width="0.55"/>
<line x1="80.55" y1="715.55" x2="84.25" y2="715.55" stroke="#000" stroke-width="0.5"/>
<line x1="595.70" y1="715.55" x2="592.00" y2="715.55" stroke="#000" stroke-width="0.5"/>
<line x1="80.55" y1="701.90" x2="84.25" y2="701.90" stroke="#000" stroke-width="0.5"/>
<line x1="595.70" y1="701.90" x2="592.00" y2="701.90" stroke="#000" stroke-width="0.5"/>
<line x1="80.55" y1="688.25" x2="84.25" y2="688.25" stroke="#000" stroke-width="0.5"/>
<line x1="595.70" y1="688.25" x2="592.00" y2="688.25" stroke="#000" stroke-width="0.5"/>
<line x1="80.55" y1="674.60" x2="84.25" y2="674.60" stroke="#000" stroke-width="0.5"/>
<line x1="595.70" y1="674.60" x2="592.00" y2="674.60" stroke="#000" stroke-width="0.5"/>
<line x1="80.55" y1="660.95" x2="86.75" y2="660.95" stroke="#000" stroke-width="0.55"/>
<line x1="595.70" y1="660.95" x2="589.50" y2="660.95" stroke="#000" stroke-width="0.55"/>
<line x1="80.55" y1="647.30" x2="84.25" y2="647.30" stroke="#000" stroke-width="0.5"/>
<line x1="595.70" y1="647.30" x2="592.00" y2="647.30" stroke="#000" stroke-width="0.5"/>
<line x1="80.55" y1="633.65" x2="84.25" y2="633.65" stroke="#000" stroke-width="0.5"/>
<line x1="595.70" y1="633.65" x2="592.00" y2="633.65" stroke="#000" stroke-width="0.5"/>
<line x1="80.55" y1="620.00" x2="84.25" y2="620.00" stroke="#000" stroke-width="0.5"/>
<line x1="595.70" y1="620.00" x2="592.00" y2="620.00" stroke="#000" stroke-width="0.5"/>
<line x1="80.55" y1="606.35" x2="84.25" y2="606.35" stroke="#000" stroke-width="0.5"/>
<line x1="595.70" y1="606.35" x2="592.00" y2="606.35" stroke="#000" stroke-width="0.5"/>
<line x1="80.55" y1="592.70" x2="86.75" y2="592.70" stroke="#000" stroke-width="0.55"/>
<line x1="595.70" y1="592.70" x2="589.50" y2="592.70" stroke="#000" stroke-width="0.55"/>
<line x1="80.55" y1="579.05" x2="84.25" y2="579.05" stroke="#000" stroke-width="0.5"/>
<line x1="595.70" y1="579.05" x2="592.00" y2="579.05" stroke="#000" stroke-width="0.5"/>
<line x1="80.55" y1="565.40" x2="84.25" y2="565.40" stroke="#000" stroke-width="0.5"/>
<line x1="595.70" y1="565.40" x2="592.00" y2="565.40" stroke="#000" stroke-width="0.5"/>
<line x1="80.55" y1="551.75" x2="84.25" y2="551.75" stroke="#000" stroke-width="0.5"/>
<line x1="595.70" y1="551.75" x2="592.00" y2="551.75" stroke="#000" stroke-width="0.5"/>
<line x1="80.55" y1="538.10" x2="84.25" y2="538.10" stroke="#000" stroke-width="0.5"/>
<line x1="595.70" y1="538.10" x2="592.00" y2="538.10" stroke="#000" stroke-width="0.5"/>
<line x1="80.55" y1="524.45" x2="86.75" y2="524.45" stroke="#000" stroke-width="0.55"/>
<line x1="595.70" y1="524.45" x2="589.50" y2="524.45" stroke="#000" stroke-width="0.55"/>
<line x1="80.55" y1="510.80" x2="84.25" y2="510.80" stroke="#000" stroke-width="0.5"/>
<line x1="595.70" y1="510.80" x2="592.00" y2="510.80" stroke="#000" stroke-width="0.5"/>
<line x1="80.55" y1="497.15" x2="84.25" y2="497.15" stroke="#000" stroke-width="0.5"/>
<line x1="595.70" y1="497.15" x2="592.00" y2="497.15" stroke="#000" stroke-width="0.5"/>
<line x1="80.55" y1="483.50" x2="84.25" y2="483.50" stroke="#000" stroke-width="0.5"/>
<line x1="595.70" y1="483.50" x2="592.00" y2="483.50" stroke="#000" stroke-width="0.5"/>
<line x1="80.55" y1="469.85" x2="84.25" y2="469.85" stroke="#000" stroke-width="0.5"/>
<line x1="595.70" y1="469.85" x2="592.00" y2="469.85" stroke="#000" stroke-width="0.5"/>
<line x1="80.55" y1="456.20" x2="86.75" y2="456.20" stroke="#000" stroke-width="0.55"/>
<line x1="595.70" y1="456.20" x2="589.50" y2="456.20" stroke="#000" stroke-width="0.55"/>
<line x1="80.55" y1="442.55" x2="84.25" y2="442.55" stroke="#000" stroke-width="0.5"/>
<line x1="595.70" y1="442.55" x2="592.00" y2="442.55" stroke="#000" stroke-width="0.5"/>
<line x1="80.55" y1="428.90" x2="84.25" y2="428.90" stroke="#000" stroke-width="0.5"/>
<line x1="595.70" y1="428.90" x2="592.00" y2="428.90" stroke="#000" stroke-width="0.5"/>
<text x="75.90" y="731.80" fill="#000" stroke="#000" font-size="16" text-anchor="end" >0</text>
<text x="75.90" y="663.55" fill="#000" stroke="#000" font-size="16" text-anchor="end" >100</text>
<text x="75.90" y="595.30" fill="#000" stroke="#000" font-size="16" text-anchor="end" >200</text>
<text x="75.90" y="527.05" fill="#000" stroke="#000" font-size="16" text-anchor="end" >300</text>
<text x="75.90" y="458.80" fill="#000" stroke="#000" font-size="16" text-anchor="end" >400</text>
<path d="M90.10,711.42 L91.76,710.59 L93.42,709.76 L95.08,708.93 L96.74,708.10 L98.40,707.27 L100.06,706.43 L101.72,705.59 L103.38,704.75 L105.04,703.91 L106.71,703.06 L108.37,702.21 L110.03,701.35 L111.69,700.49 L113.35,699.63 L115.01,698.76 L116.67,697.88 L118.33,697.00 L119.99,696.11 L121.65,695.21 L123.31,694.31 L124.97,693.40 L126.63,692.48 L128.29,691.55 L129.95,690.61 L131.61,689.67 L133.27,688.71 L134.93,687.75 L136.59,686.79 L138.26,685.81 L139.92,684.83 L141.58,683.84 L143.24,682.85 L144.90,681.85 L146.56,680.84 L148.22,679.83 L149.88,678.81 L151.54,677.79 L153.20,676.77 L154.86,675.74 L156.52,674.71 L158.18,673.67 L159.84,672.63 L161.50,671.59 L163.16,670.54 L164.82,669.50 L166.48,668.45 L168.15,667.40 L169.81,666.35 L171.47,665.29 L173.13,664.24 L174.79,663.18 L176.45,662.12 L178.11,661.06 L179.77,660.00 L181.43,658.94 L183.09,657.88 L184.75,656.81 L186.41,655.75 L188.07,654.68 L189.73,653.61 L191.39,652.54 L193.05,651.47 L194.71,650.40 L196.37,649.33 L198.03,648.25 L199.70,647.18 L201.36,646.10 L203.02,645.03 L204.68,643.95 L206.34,642.87 L208.00,641.79 L209.66,640.71 L211.32,639.63 L212.98,638.55 L214.64,637.47 L216.30,636.39 L217.96,635.31 L219.62,634.22 L221.28,633.14 L222.94,632.06 L224.60,630.97 L226.26,629.89 L227.92,628.80 L229.58,627.72 L231.25,626.63 L232.91,625.55 L234.57,624.46 L236.23,623.37 L237.89,622.29 L239.55,621.20 L241.21,620.11 L242.87,619.03 L244.53,617.94 L246.19,616.86 L247.85,615.77 L249.51,614.68 L251.17,613.60 L252.83,612.51 L254.49,611.43 L256.15,610.34 L257.81,609.26 L259.47,608.17 L261.14,607.09 L262.80,606.00 L264.46,604.92 L266.12,603.84 L267.78,602.76 L269.44,601.67 L271.10,600.59 L272.76,599.51 L274.42,598.43 L276.08,597.35 L277.74,596.28 L279.40,595.20 L281.06,594.12 L282.72,593.05 L284.38,591.97 L286.04,590.90 L287.70,589.82 L289.36,588.75 L291.02,587.68 L292.69,586.61 L294.35,585.54 L296.01,584.48 L297.67,583.41 L299.33,582.34 L300.99,581.28 L302.65,580.22 L304.31,579.16 L305.97,578.10 L307.63,577.04 L309.29,575.98 L310.95,574.92 L312.61,573.87 L314.27,572.82 L315.93,571.77 L317.59,570.71 L319.25,569.67 L320.91,568.62 L322.57,567.57 L324.24,566.53 L325.90,565.48 L327.56,564.44 L329.22,563.40 L330.88,562.36 L332.54,561.32 L334.20,560.28 L335.86,559.25 L337.52,558.22 L339.18,557.18 L340.84,556.15 L342.50,555.12 L344.16,554.09 L345.82,553.07 L347.48,552.04 L349.14,551.02 L350.80,550.00 L352.46,548.98 L354.13,547.96 L355.79,546.94 L357.45,545.92 L359.11,544.91 L360.77,543.90 L362.43,542.89 L364.09,541.88 L365.75,540.87 L367.41,539.86 L369.07,538.86 L370.73,537.85 L372.39,536.85 L374.05,535.85 L375.71,534.85 L377.37,533.85 L379.03,532.86 L380.69,531.87 L382.35,530.87 L384.01,529.88 L385.68,528.89 L387.34,527.91 L389.00,526.92 L390.66,525.94 L392.32,524.95 L393.98,523.97 L395.64,522.99 L397.30,522.02 L398.96,521.04 L400.62,520.07 L402.28,519.10 L403.94,518.13 L405.60,517.16 L407.26,516.19 L408.92,515.23 L410.58,514.26 L412.24,513.30 L413.90,512.34 L415.56,511.38 L417.23,510.43 L418.89,509.47 L420.55,508.52 L422.21,507.57 L423.87,506.62 L425.53,505.67 L427.19,504.73 L428.85,503.78 L430.51,502.84 L432.17,501.90 L433.83,500.97 L435.49,500.03 L437.15,499.09 L438.81,498.16 L440.47,497.23 L442.13,496.30 L443.79,495.38 L445.45,494.45 L447.12,493.53 L448.78,492.61 L450.44,491.69 L452.10,490.77 L453.76,489.86 L455.42,488.95 L457.08,488.03 L458.74,487.12 L460.40,486.22 L462.06,485.31 L463.72,484.41 L465.38,483.51 L467.04,482.61 L468.70,481.71 L470.36,480.82 L472.02,479.92 L473.68,479.03 L475.34,478.14 L477.00,477.26 L478.67,476.37 L480.33,475.49 L481.99,474.61 L483.65,473.73 L485.31,472.85 L486.97,471.98 L488.63,471.10 L490.29,470.23 L491.95,469.36 L493.61,468.49 L495.27,467.63 L496.93,466.76 L498.59,465.90 L500.25,465.04 L501.91,464.18 L503.57,463.32 L505.23,462.47 L506.89,461.61 L508.55,460.76 L510.22,459.91 L511.88,459.06 L513.54,458.21 L515.20,457.37 L516.86,456.53 L518.52,455.68 L520.18,454.84 L521.84,454.00 L523.50,453.17 L525.16,452.33 L526.82,451.50 L528.48,450.66 L530.14,449.83 L531.80,449.00 L533.46,448.18 L535.12,447.35 L536.78,446.52 L538.44,445.70 L540.11,444.88 L541.77,444.06 L543.43,443.24 L545.09,442.42 L546.75,441.60 L548.41,440.79 L550.07,439.98 L551.73,439.16 L553.39,438.35 L555.05,437.54 L556.71,436.73 L558.37,435.93 L560.03,435.12 L561.69,434.32 L563.35,433.51 L565.01,432.71 L566.67,431.91 L568.33,431.11 L569.99,430.31 L571.66,429.52 L573.32,428.72 L574.98,427.93 L576.64,427.13 L578.30,426.34 L579.96,425.55 L581.62,424.76 L583.28,423.97 L584.94,423.18 L586.60,422.39" fill="none" stroke="#3f3d99" stroke-width="1.8" stroke-linejoin="round" />
<text font-size="16" fill="#000" stroke="#000"><tspan x="275.20" y="777.20">Log</tspan><tspan x="301.60" y="782.50" font-size="14.3">10</tspan><tspan x="317.10" y="777.20">(Λ</tspan><tspan x="332.40" y="781.50" font-size="15.5">UV</tspan><tspan x="355.50" y="777.20">/</tspan><tspan x="365.10" y="777.20">GeV)</tspan></text>
<text transform="translate(33.5,576.05) rotate(-90)" letter-spacing="0.2" font-size="16" fill="#000" stroke="#000" text-anchor="middle">Fine Tuning</text>
</svg>
</body></html>
